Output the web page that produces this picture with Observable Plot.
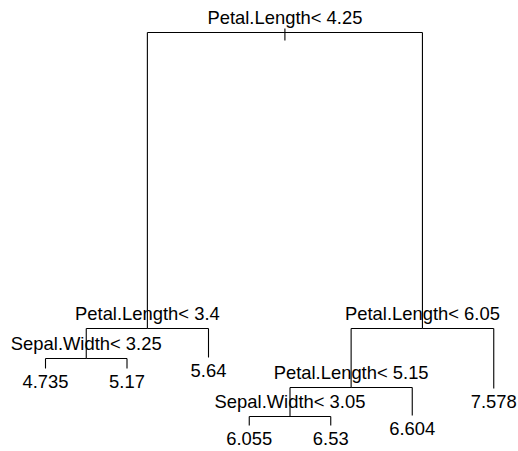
<!DOCTYPE html>
<html><head><meta charset="utf-8">
<script src="https://cdn.jsdelivr.net/npm/d3@7"></script>
<script src="https://cdn.jsdelivr.net/npm/@observablehq/plot@0.6"></script>
<style>body{margin:0;background:#fff}</style>
</head><body><div id="chart"></div>
<script>
// rpart regression tree (iris, response Sepal.Length)
const nodeLabel = ["Petal.Length< 4.25","Petal.Length< 3.4","Sepal.Width< 3.25","4.735","5.17","5.64",
                   "Petal.Length< 6.05","Petal.Length< 5.15","Sepal.Width< 3.05","6.055","6.53","6.604","7.578"];
const nodeParent = [-1, 0, 1, 2, 2, 1, 0, 6, 7, 8, 8, 7, 6];
// node heights (relative deviance scale, root = 1)
const nodeHeight = [1.0, 0.26, 0.185, 0.16, 0.16, 0.1875, 0.26, 0.1125, 0.04, 0.0175, 0.0175, 0.0425, 0.11];
// horizontal slot of each leaf (null for split nodes)
const leafSlot = [null, null, null, 1, 2, 3, null, null, null, 3.5, 4.5, 5.5, 6.5];

const n = nodeLabel.length;
const children = nodeLabel.map(() => []);
nodeParent.forEach((p, i) => { if (p >= 0) children[p].push(i); });
const nodeX = new Array(n);
function place(i) {
  if (children[i].length === 0) return (nodeX[i] = leafSlot[i]);
  const xs = children[i].map(place);
  return (nodeX[i] = (xs[0] + xs[xs.length - 1]) / 2);
}
place(0);
const nodes = nodeLabel.map((label, i) => ({label, x: nodeX[i], h: nodeHeight[i], leaf: children[i].length === 0}));
const segs = [];
nodeParent.forEach((p, i) => {
  if (p < 0) return;
  segs.push({x1: nodeX[p], y1: nodeHeight[p], x2: nodeX[i], y2: nodeHeight[p]});
  segs.push({x1: nodeX[i], y1: nodeHeight[p], x2: nodeX[i], y2: nodeHeight[i]});
});
segs.push({x1: nodeX[0], y1: nodeHeight[0] + 0.01, x2: nodeX[0], y2: nodeHeight[0] - 0.02});

const chart = Plot.plot({
  width: 518, height: 451, margin: 0,
  x: {domain: [1, 6.5], range: [45, 493.25], axis: null},
  y: {domain: [0, 1], range: [432, 32], axis: null},
  style: {fontFamily: "'Liberation Sans', Arial, Helvetica, sans-serif", background: "white"},
  marks: [
    Plot.link(segs, {x1: "x1", y1: "y1", x2: "x2", y2: "y2", stroke: "#000", strokeWidth: 1.1}),
    Plot.text(nodes.filter(d => !d.leaf), {x: "x", y: "h", text: "label", dy: -14.5, fontSize: 18.4, fill: "#000"}),
    Plot.text(nodes.filter(d => d.leaf), {x: "x", y: "h", text: "label", dy: 14, fontSize: 18.4, fill: "#000"})
  ]
});
document.getElementById("chart").appendChild(chart);
</script>
</body></html>
